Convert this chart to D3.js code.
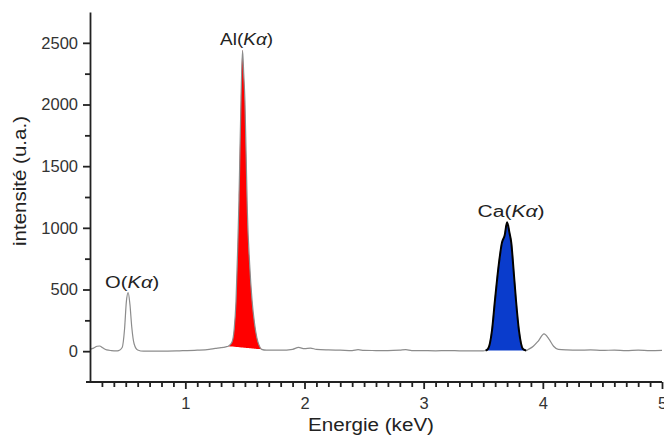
<!DOCTYPE html>
<html>
<head>
<meta charset="utf-8">
<script src="https://cdn.jsdelivr.net/npm/d3@7"></script>
<style>
  body { margin: 0; background: #fff; }
  text { font-family: "Liberation Sans", Arial, sans-serif; }
</style>
</head>
<body>
<div id="chart"></div>
<script>
// EDS spectrum
var energy = [0.20, 0.23, 0.26, 0.28, 0.31, 0.34, 0.38, 0.42, 0.44, 0.47, 0.49, 0.505, 0.52, 0.535, 0.55, 0.57, 0.60, 0.65,
  0.80, 0.95, 1.10, 1.20, 1.25, 1.30, 1.34, 1.36, 1.39, 1.41, 1.425, 1.44, 1.45, 1.467, 1.48, 1.49, 1.50, 1.51, 1.52,
  1.54, 1.56, 1.58, 1.60, 1.62, 1.64, 1.68, 1.80, 1.90, 1.95, 2.00, 2.05, 2.10, 2.20, 2.30, 2.40, 2.45, 2.50, 2.60,
  2.70, 2.80, 2.85, 2.90, 3.00, 3.10, 3.20, 3.30, 3.40, 3.50, 3.52, 3.54, 3.573, 3.598, 3.63, 3.657, 3.68, 3.70,
  3.72, 3.735, 3.755, 3.775, 3.80, 3.833, 3.86, 3.88, 3.92, 3.96, 4.01, 4.05, 4.09, 4.13, 4.20, 4.30, 4.40, 4.50,
  4.60, 4.70, 4.80, 4.90, 5.00];
var counts = [15, 25, 40, 42, 25, 10, 5, 3, 5, 30, 180, 400, 475, 380, 200, 60, 10, 0,
  0, 3, 8, 15, 22, 28, 35, 40, 70, 180, 400, 850, 1220, 2030, 2440, 2250, 2030, 1600, 1150,
  700, 410, 230, 110, 45, 15, 8, 8, 15, 30, 20, 25, 15, 10, 8, 5, 12, 6, 5,
  4, 8, 12, 5, 4, 3, 5, 3, 2, 2, 5, 18, 165, 409, 700, 880, 940, 1045,
  960, 880, 650, 409, 165, 18, 5, 15, 40, 80, 140, 100, 40, 15, 10, 8, 10, 6,
  9, 5, 8, 4, 6];

var yTicks = [0, 500, 1000, 1500, 2000, 2500];
var xTicks = [1, 2, 3, 4, 5];

var peakNames = ["O", "Al", "Ca"];
var peakEnergy = [0.52, 1.48, 3.70];
var peakCounts = [475, 2440, 1045];
var peakLabelWidth = [54, 53, 67];

var alRange = [1.36, 1.64];
var caRange = [3.52, 3.86];

var data = energy.map(function(e, i){ return { e: e, c: counts[i] }; });

var W = 664, H = 436;
var margin = { left: 90, right: 2, top: 12, bottom: 54 };

var svg = d3.select("#chart").append("svg")
    .attr("width", W)
    .attr("height", H);

var x = d3.scaleLinear().domain([0.2, 5]).range([margin.left, W - margin.right]);
var y = d3.scaleLinear().domain([-250, 2750]).range([H - margin.bottom, margin.top]);

var line = d3.line()
    .x(function(d){ return x(d.e); })
    .y(function(d){ return y(d.c); })
    .curve(d3.curveMonotoneX);

// filled peak: area between curve and chord joining the two feet
function peakArea(range){
    var pts = data.filter(function(d){ return d.e >= range[0] - 1e-9 && d.e <= range[1] + 1e-9; });
    var first = pts[0], last = pts[pts.length - 1];
    var chord = d3.scaleLinear().domain([first.e, last.e]).range([first.c, last.c]);
    var area = d3.area()
        .x(function(d){ return x(d.e); })
        .y0(function(d){ return y(chord(d.e)); })
        .y1(function(d){ return y(d.c); })
        .curve(d3.curveMonotoneX);
    return { pts: pts, path: area(pts) };
}

var al = peakArea(alRange);
svg.append("path")
    .attr("d", al.path)
    .attr("fill", "#ff0000");

var ca = peakArea(caRange);
svg.append("path")
    .attr("d", ca.path)
    .attr("fill", "#0a3ccc");

svg.append("path")
    .datum(data)
    .attr("d", line)
    .attr("fill", "none")
    .attr("stroke", "#8c8c8c")
    .attr("stroke-width", 1.2);

svg.append("path")
    .datum(ca.pts)
    .attr("d", line)
    .attr("fill", "none")
    .attr("stroke", "#000")
    .attr("stroke-width", 2);

// axes
var axisColor = "#222";
var fmt = d3.format("d");

var yAxis = svg.append("g")
    .attr("transform", "translate(" + margin.left + ",0)")
    .call(d3.axisLeft(y).tickValues(yTicks).tickFormat(fmt).tickSize(7).tickSizeOuter(0).tickPadding(5));
yAxis.append("g")
    .call(d3.axisLeft(y).tickValues(d3.range(250, 2750, 500)).tickSize(5).tickFormat(""))
    .select(".domain").remove();

var xAxis = svg.append("g")
    .attr("transform", "translate(0," + (H - margin.bottom) + ")")
    .call(d3.axisBottom(x).tickValues(xTicks).tickFormat(fmt).tickSize(7).tickSizeOuter(0).tickPadding(8));
xAxis.append("g")
    .call(d3.axisBottom(x).tickValues(d3.range(3, 50).map(function(v){ return v / 10; })
        .filter(function(v){ return v % 1 !== 0; })).tickSize(5).tickFormat(""))
    .select(".domain").remove();

xAxis.select(".domain").attr("d", "M" + (margin.left - 4) + ",0H" + (W - margin.right));

svg.selectAll(".domain, .tick line")
    .attr("stroke", axisColor)
    .attr("stroke-width", 1.8);
svg.selectAll(".tick text")
    .attr("fill", "#333")
    .style("font-size", "16.5px");

// axis titles
svg.append("text")
    .attr("x", (x(0.2) + x(5)) / 2 - 5)
    .attr("y", 431)
    .attr("text-anchor", "middle")
    .attr("fill", "#222")
    .style("font-size", "18px")
    .attr("textLength", 126)
    .attr("lengthAdjust", "spacingAndGlyphs")
    .text("Energie (keV)");

svg.append("text")
    .attr("transform", "translate(26,181) rotate(-90)")
    .attr("text-anchor", "middle")
    .attr("fill", "#222")
    .style("font-size", "18px")
    .attr("textLength", 130)
    .attr("lengthAdjust", "spacingAndGlyphs")
    .text("intensité (u.a.)");

// peak labels
peakNames.forEach(function(name, i){
    var t = svg.append("text")
        .attr("x", x(peakEnergy[i]) + 4)
        .attr("y", y(peakCounts[i]) - 5)
        .attr("text-anchor", "middle")
        .attr("fill", "#222")
        .style("font-size", "16px")
        .attr("textLength", peakLabelWidth[i])
        .attr("lengthAdjust", "spacingAndGlyphs");
    t.append("tspan").text(name + "(");
    t.append("tspan").style("font-style", "italic").text("Kα");
    t.append("tspan").text(")");
});
</script>
</body>
</html>
